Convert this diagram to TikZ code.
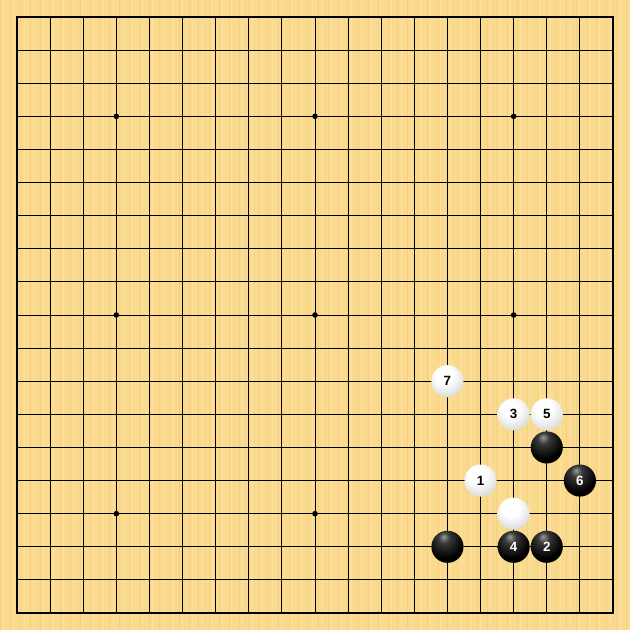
\documentclass[tikz,border=0pt]{standalone}
\usepackage{fontspec}
\setmainfont{Liberation Sans}
\usetikzlibrary{shadings}
\definecolor{wood}{HTML}{F9DA8E}
\definecolor{woodA}{HTML}{F4D080}
\definecolor{woodB}{HTML}{FCE2A2}
\pgfdeclareradialshading{wshade}{\pgfpoint{-6bp}{12bp}}{color(0bp)=(white); color(14bp)=(white); color(30bp)=(black!12); color(45bp)=(black!30); color(58bp)=(black!50); color(80bp)=(black!50)}
\pgfdeclareradialshading{bshade}{\pgfpoint{-6bp}{16bp}}{color(0bp)=(black!40); color(9bp)=(black!78); color(28bp)=(black); color(80bp)=(black)}
\tikzset{
  wstone/.style={circle,minimum size=0.97cm,inner sep=0pt,shading=wshade,font=\bfseries\fontsize{11.5}{11.5}\selectfont,text=black},
  bstone/.style={circle,minimum size=0.97cm,inner sep=0pt,shading=bshade,font=\bfseries\fontsize{11.5}{11.5}\selectfont,text=white},
  starpt/.style={circle,fill=black,minimum size=0.17cm,inner sep=0pt},
  gridline/.style={line width=0.8pt,black},
  border/.style={line width=1.7pt,black}
}
\begin{document}
\begin{tikzpicture}[x=1cm,y=-1cm]
\def\off{0.5135}
\useasboundingbox (-\off,-\off) rectangle (18+\off,18+\off);
\fill[wood] (-\off,-\off) rectangle (18+\off,18+\off);
\foreach \i in {0,...,189}{
  \pgfmathsetmacro{\xx}{-\off+\i*0.1+0.03*mod(\i*7,5)/5}
  \pgfmathtruncatemacro{\cc}{mod(\i*13,3)}
  \ifnum\cc=0
    \draw[woodA,line width=0.5pt] (\xx,-\off) -- (\xx,18+\off);
  \else\ifnum\cc=1
    \draw[woodB,line width=0.6pt] (\xx,-\off) -- (\xx,18+\off);
  \fi\fi
}
\foreach \k in {1,...,17}{
  \draw[gridline] (\k,0) -- (\k,18);
  \draw[gridline] (0,\k) -- (18,\k);
}
\draw[border] (0,0) rectangle (18,18);
\foreach \a/\b [count=\n] in {3/3,9/3,15/3,3/9,9/9,15/9,3/15,9/15,15/15}
  \node[starpt] (star\n) at (\a,\b) {};
% stones
\node[wstone] (w7) at (13,11) {7};
\node[wstone] (w3) at (15,12) {3};
\node[wstone] (w5) at (16,12) {5};
\node[bstone] (b0) at (16,13) {};
\node[wstone] (w1) at (14,14) {1};
\node[bstone] (b6) at (17,14) {6};
\node[wstone] (w0) at (15,15) {};
\node[bstone] (b00) at (13,16) {};
\node[bstone] (b4) at (15,16) {4};
\node[bstone] (b2) at (16,16) {2};
\end{tikzpicture}
\end{document}
